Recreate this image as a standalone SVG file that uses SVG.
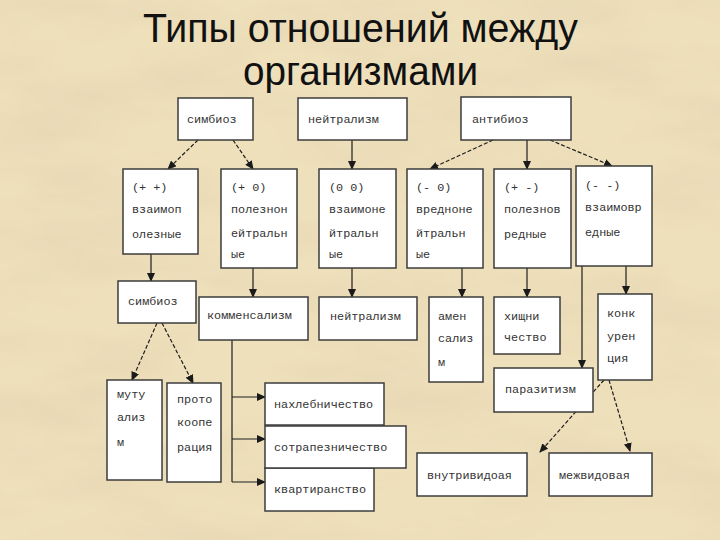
<svg xmlns="http://www.w3.org/2000/svg" width="720" height="540" viewBox="0 0 720 540">
<defs>
<filter id="paper" x="0" y="0" width="720" height="540" filterUnits="userSpaceOnUse">
<feTurbulence type="fractalNoise" baseFrequency="0.006 0.018" numOctaves="4" seed="7"/>
<feColorMatrix type="matrix" values="0 0 0 0 0.78  0 0 0 0 0.66  0 0 0 0 0.44  1.5 0 0 0 -0.6"/>
</filter>
<marker id="ah" markerUnits="userSpaceOnUse" markerWidth="9" markerHeight="8" refX="8" refY="4" orient="auto">
<path d="M0,0 L9,4 L0,8 z" fill="#1a1a1a"/>
</marker>
<style>
.box{fill:#ffffff;stroke:#3c3c3c;stroke-width:1.5}
.t{font-family:"Liberation Mono","DejaVu Sans Mono",monospace;font-size:11.8px;fill:#333333}
.title{font-family:"Liberation Sans","Arial",sans-serif;font-size:40px;fill:#111}
.c{stroke:#1e1e1e;stroke-width:1.2;fill:none}
.d{stroke-dasharray:4 2}
.a{marker-end:url(#ah)}
</style>
</defs>
<rect x="0" y="0" width="720" height="540" fill="#efe0bc"/>
<rect x="0" y="0" width="720" height="540" filter="url(#paper)"/>

<g id="title">
<text class="title" x="143" y="42" textLength="435" lengthAdjust="spacingAndGlyphs">Типы отношений между</text>
<text class="title" x="243" y="85" textLength="235" lengthAdjust="spacingAndGlyphs">организмами</text>
</g>

<g id="connectors">
<line class="c d a" x1="198" y1="140" x2="168" y2="169"/>
<line class="c d a" x1="233" y1="140" x2="253" y2="169"/>
<line class="c a" x1="352" y1="140" x2="352" y2="169"/>
<line class="c d a" x1="493" y1="140" x2="430" y2="169"/>
<line class="c a" x1="527" y1="140" x2="527" y2="169"/>
<line class="c d a" x1="550" y1="140" x2="612" y2="166"/>
<line class="c a" x1="151" y1="254" x2="151" y2="281"/>
<line class="c a" x1="253" y1="268" x2="253" y2="297"/>
<line class="c a" x1="352" y1="268" x2="352" y2="297"/>
<line class="c a" x1="462" y1="268" x2="462" y2="297"/>
<line class="c a" x1="527" y1="268" x2="527" y2="297"/>
<line class="c a" x1="626" y1="266" x2="626" y2="294"/>
<line class="c a" x1="582" y1="266" x2="582" y2="368"/>
<line class="c d a" x1="157" y1="323" x2="132" y2="380"/>
<line class="c d a" x1="162" y1="323" x2="193" y2="383"/>
<line class="c" x1="232" y1="340" x2="232" y2="482"/>
<line class="c a" x1="232" y1="397" x2="265" y2="397"/>
<line class="c a" x1="232" y1="439" x2="265" y2="439"/>
<line class="c a" x1="232" y1="482" x2="265" y2="482"/>
<line class="c d a" x1="604" y1="380" x2="540" y2="452"/>
<line class="c d a" x1="609" y1="380" x2="630" y2="451"/>
</g>

<g id="n-simbioz"><rect class="box" x="178" y="98" width="75" height="42"/><text class="t" x="187" y="123">симбиоз</text></g>
<g id="n-neutralism"><rect class="box" x="298" y="98" width="109" height="42"/><text class="t" x="308" y="123">нейтрализм</text></g>
<g id="n-antibioz"><rect class="box" x="461" y="97" width="110" height="43"/><text class="t" x="472" y="123">антибиоз</text></g>

<g id="n-pp"><rect class="box" x="123" y="169" width="75" height="85"/>
<text class="t" x="132" y="191">(+ +)</text><text class="t" x="132" y="213">взаимоп</text><text class="t" x="132" y="238">олезные</text></g>
<g id="n-p0"><rect class="box" x="221" y="169" width="76" height="99"/>
<text class="t" x="231" y="191">(+ 0)</text><text class="t" x="231" y="213">полезнон</text><text class="t" x="231" y="237">ейтральн</text><text class="t" x="231" y="258">ые</text></g>
<g id="n-00"><rect class="box" x="319" y="169" width="77" height="99"/>
<text class="t" x="329" y="191">(0 0)</text><text class="t" x="329" y="213">взаимоне</text><text class="t" x="329" y="237">йтральн</text><text class="t" x="329" y="258">ые</text></g>
<g id="n-m0"><rect class="box" x="407" y="169" width="76" height="99"/>
<text class="t" x="416" y="191">(- 0)</text><text class="t" x="416" y="213">вредноне</text><text class="t" x="416" y="237">йтральн</text><text class="t" x="416" y="258">ые</text></g>
<g id="n-pm"><rect class="box" x="494" y="169" width="77" height="99"/>
<text class="t" x="504" y="191">(+ -)</text><text class="t" x="504" y="213">полезнов</text><text class="t" x="504" y="238">редные</text></g>
<g id="n-mm"><rect class="box" x="576" y="166" width="76" height="100"/>
<text class="t" x="585" y="189">(- -)</text><text class="t" x="585" y="211">взаимовр</text><text class="t" x="585" y="236">едные</text></g>

<g id="n-simbioz2"><rect class="box" x="118" y="281" width="78" height="42"/><text class="t" x="128" y="305">симбиоз</text></g>
<g id="n-kommensalizm"><rect class="box" x="199" y="297" width="109" height="43"/><text class="t" x="207" y="319">комменсализм</text></g>
<g id="n-neutralism2"><rect class="box" x="319" y="297" width="98" height="43"/><text class="t" x="330" y="320">нейтрализм</text></g>
<g id="n-amensalizm"><rect class="box" x="429" y="297" width="54" height="85"/>
<text class="t" x="438" y="320">амен</text><text class="t" x="438" y="342">сализ</text><text class="t" x="438" y="366">м</text></g>
<g id="n-hischnichestvo"><rect class="box" x="494" y="297" width="66" height="57"/>
<text class="t" x="504" y="320">хищни</text><text class="t" x="504" y="341">чество</text></g>
<g id="n-konkurencia"><rect class="box" x="598" y="294" width="54" height="86"/>
<text class="t" x="607" y="317">конк</text><text class="t" x="607" y="340">урен</text><text class="t" x="607" y="362">ция</text></g>
<g id="n-parazitizm"><rect class="box" x="494" y="368" width="99" height="44"/><text class="t" x="505" y="393">паразитизм</text></g>

<g id="n-mutualizm"><rect class="box" x="107" y="380" width="55" height="100"/>
<text class="t" x="117" y="398">муту</text><text class="t" x="117" y="421">ализ</text><text class="t" x="117" y="446">м</text></g>
<g id="n-protokooperacia"><rect class="box" x="167" y="383" width="54" height="99"/>
<text class="t" x="177" y="403">прото</text><text class="t" x="177" y="426">коопе</text><text class="t" x="177" y="451">рация</text></g>
<g id="n-nahlebnichestvo"><rect class="box" x="265" y="383" width="119" height="42"/><text class="t" x="274" y="408">нахлебничество</text></g>
<g id="n-kvartiranstvo"><rect class="box" x="265" y="468" width="109" height="43"/><text class="t" x="274" y="493">квартиранство</text></g>
<g id="n-sotrapeznichestvo"><rect class="box" x="265" y="426" width="141" height="42"/><text class="t" x="274" y="451">сотрапезничество</text></g>
<g id="n-vnutrividovaya"><rect class="box" x="417" y="453" width="110" height="43"/><text class="t" x="427" y="479">внутривидоая</text></g>
<g id="n-mezhvidovaya"><rect class="box" x="549" y="453" width="103" height="43"/><text class="t" x="559" y="479">межвидовая</text></g>
</svg>
